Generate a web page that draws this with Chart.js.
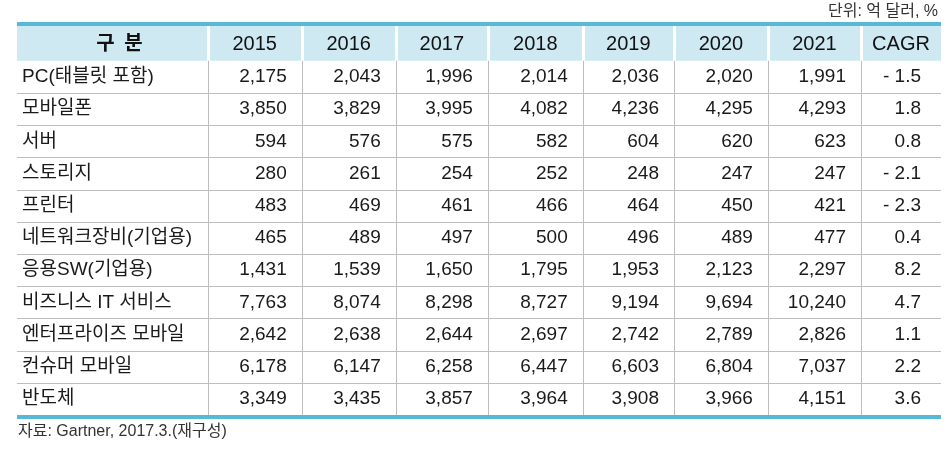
<!DOCTYPE html>
<html>
<head>
<meta charset="utf-8">
<script src="https://cdn.jsdelivr.net/npm/chart.js@4.4.1/dist/chart.umd.min.js"></script>
<style>
  html, body { margin: 0; padding: 0; background: #fff; }
  #wrap { width: 950px; height: 455px; }
</style>
</head>
<body>
<div id="wrap"><canvas id="tbl" width="950" height="455"></canvas></div>
<script>
// table content
const headCorner = '구 분';
const years = ['2015', '2016', '2017', '2018', '2019', '2020', '2021'];
const cagrLabel = 'CAGR';
const categories = ['PC(태블릿 포함)', '모바일폰', '서버', '스토리지', '프린터', '네트워크장비(기업용)',
  '응용SW(기업용)', '비즈니스 IT 서비스', '엔터프라이즈 모바일', '컨슈머 모바일', '반도체'];
const y2015 = [2175, 3850, 594, 280, 483, 465, 1431, 7763, 2642, 6178, 3349];
const y2016 = [2043, 3829, 576, 261, 469, 489, 1539, 8074, 2638, 6147, 3435];
const y2017 = [1996, 3995, 575, 254, 461, 497, 1650, 8298, 2644, 6258, 3857];
const y2018 = [2014, 4082, 582, 252, 466, 500, 1795, 8727, 2697, 6447, 3964];
const y2019 = [2036, 4236, 604, 248, 464, 496, 1953, 9194, 2742, 6603, 3908];
const y2020 = [2020, 4295, 620, 247, 450, 489, 2123, 9694, 2789, 6804, 3966];
const y2021 = [1991, 4293, 623, 247, 421, 477, 2297, 10240, 2826, 7037, 4151];
const cagr = [-1.5, 1.8, 0.8, -2.1, -2.3, 0.4, 8.2, 4.7, 1.1, 2.2, 3.6];
const unitNote = '단위: 억 달러, %';
const sourceNote = '자료: Gartner, 2017.3.(재구성)';

const yearCols = [y2015, y2016, y2017, y2018, y2019, y2020, y2021];

// layout in scale units
const colEdges = [0, 2.05, 3.06, 4.07, 5.06, 6.08, 7.06, 8.07, 9.07, 9.93];
const headH = 1.08;
const FONT = '"Liberation Sans", Arial, "Noto Sans CJK KR", sans-serif';

function fmt(v) { return v.toLocaleString('en-US'); }
function fmtPct(v) { return v < 0 ? '- ' + Math.abs(v).toFixed(1) : v.toFixed(1); }

const tablePlugin = {
  id: 'tablePlugin',
  afterDraw(chart) {
    const ctx = chart.ctx;
    const xs = chart.scales.x, ys = chart.scales.y;
    const X = v => xs.getPixelForValue(v);
    const Y = v => ys.getPixelForValue(v);
    const left = X(colEdges[0]), right = X(colEdges[colEdges.length - 1]);
    ctx.save();

    // header background
    ctx.fillStyle = '#cfe9f3';
    ctx.fillRect(left, Y(0), right - left, Y(headH) - Y(0));
    // white separators in header
    ctx.fillStyle = '#ffffff';
    for (let c = 1; c < colEdges.length - 1; c++) {
      ctx.fillRect(Math.round(X(colEdges[c])) - 1, Y(0), 3, Y(headH) - Y(0));
    }

    // grid lines in body
    ctx.strokeStyle = '#bdbdbd';
    ctx.lineWidth = 1;
    const bodyBottom = headH + categories.length;
    for (let r = 1; r < categories.length; r++) {
      const py = Math.round(Y(headH + r)) + 0.5;
      ctx.beginPath(); ctx.moveTo(left, py); ctx.lineTo(right, py); ctx.stroke();
    }
    for (let c = 1; c < colEdges.length - 1; c++) {
      const px = Math.round(X(colEdges[c])) + 0.5;
      ctx.beginPath(); ctx.moveTo(px, Y(headH)); ctx.lineTo(px, Y(bodyBottom)); ctx.stroke();
    }

    // blue top and bottom rules
    ctx.fillStyle = '#58b9d6';
    ctx.fillRect(left, Y(0) - 4, right - left, 4);
    ctx.fillRect(left, Y(bodyBottom), right - left, 4);

    // header text
    ctx.fillStyle = '#111';
    ctx.textBaseline = 'middle';
    ctx.textAlign = 'center';
    const hy = Y(headH / 2) + 1;
    ctx.font = 'bold 20px ' + FONT;
    ctx.letterSpacing = '2px';
    ctx.fillText(headCorner, (X(colEdges[0]) + X(colEdges[1])) / 2 + 8, hy);
    ctx.letterSpacing = '0px';
    ctx.font = '20px ' + FONT;
    years.forEach((yr, i) => {
      ctx.fillText(yr, (X(colEdges[i + 1]) + X(colEdges[i + 2])) / 2, hy);
    });
    ctx.fillText(cagrLabel, (X(colEdges[8]) + X(colEdges[9])) / 2, hy);

    // body text
    ctx.font = '19px ' + FONT;
    ctx.fillStyle = '#1a1a1a';
    categories.forEach((cat, r) => {
      const cy = Y(headH + r + 0.5);
      ctx.textAlign = 'left';
      ctx.fillText(cat, X(colEdges[0]) + 5, cy);
      ctx.textAlign = 'right';
      yearCols.forEach((col, i) => {
        ctx.fillText(fmt(col[r]), X(colEdges[i + 2]) - 15, cy);
      });
      ctx.fillText(fmtPct(cagr[r]), X(colEdges[9]) - 20, cy);
    });

    // notes
    ctx.fillStyle = '#333';
    ctx.font = '16px ' + FONT;
    ctx.textAlign = 'right';
    ctx.fillText(unitNote, right - 3, 12);
    ctx.textAlign = 'left';
    ctx.fillText(sourceNote, left + 1, 432);
    ctx.restore();
  }
};

new Chart(document.getElementById('tbl'), {
  type: 'scatter',
  data: { datasets: [{ data: [], pointRadius: 0 }] },
  options: {
    responsive: false,
    animation: false,
    layout: { padding: { left: 17, right: 9, top: 26, bottom: 40 } },
    plugins: { legend: { display: false }, tooltip: { enabled: false } },
    scales: {
      x: { type: 'linear', min: 0, max: 9.93, display: false },
      y: { type: 'linear', min: 0, max: 12.08, reverse: true, display: false }
    }
  },
  plugins: [tablePlugin]
});
</script>
</body>
</html>
